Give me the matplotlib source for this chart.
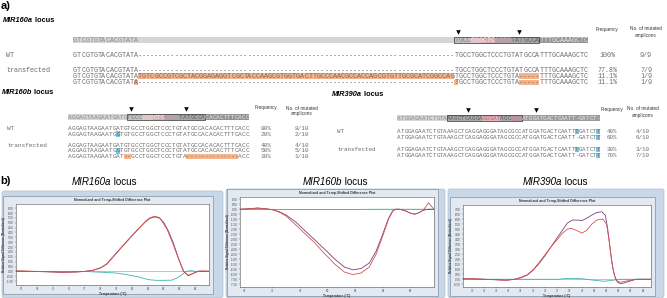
import matplotlib.pyplot as plt
from matplotlib.patches import Rectangle, FancyBboxPatch

plt.rcParams['font.family'] = ['Liberation Sans', 'DejaVu Sans']

W, H = 667, 298
MONO = 'Liberation Mono'
GREY = '#6e6e6e'
ORANGE = '#f6b38a'
CYAN = '#72c7e0'

# ---------------- a) sequence data ----------------
mir160a_left = "GTCGTGTACACGTATA"
mir160a_ins = "TGTCGCCGTCGCTACGGAGAGGTCGCTACCAAGCGTGGTGACTTGCCCAACGCCACCAGCGTGTTGCGCATCGGCCAG"
mir160a_right = "TGCCTGGCTCCCTGTATGCCATTTGCAAAGCTC"
mir160a_right_del = "TGCCTGGCTCCCTGTA-----TTTGCAAAGCTC"
mir160a_gap = "-" * len(mir160a_ins)
n_ins = len(mir160a_ins)
mir160a_ref = mir160a_left + " " * n_ins + mir160a_right
mir160a_seqs = [
    mir160a_left + mir160a_gap + mir160a_right,
    mir160a_left + mir160a_gap + mir160a_right,
    mir160a_left + mir160a_ins + mir160a_right_del,
    mir160a_left + mir160a_gap + mir160a_right_del,
]
mir160a_groups = ["WT", "transfected", "", ""]
mir160a_freq = ["100%", "77.8%", "11.1%", "11.1%"]
mir160a_count = ["9/9", "7/9", "1/9", "1/9"]
k = 16 + n_ins  # start of target region
mir160a_orange = [[], [], [(16, k), (k + 16, k + 21)], [(15, 16), (k, k + 1), (k + 16, k + 21)]]
mir160a_cyan = [[], [], [], []]
mir160a_segs = [(0, k, '#d5d5d5', '#8a8a8a'), (k, k + 4, '#c4c4c4', '#7c7c7c'),
                (k + 4, k + 7, '#e4c6ca', '#e4c6ca'), (k + 7, k + 10, '#d8a9b1', 'white'),
                (k + 10, k + 14, '#b5a3a7', '#b5a3a7'), (k + 14, k + 21, '#a8a8a8', '#606060'),
                (k + 21, k + 33, '#939393', '#e8e8e8')]
mir160a_box = (k, k + 21)
mir160a_cuts = [k + 1, k + 16]

mir160b_ref = "AGGAGTAAGAATGATGTGCCTGGCTCCCTGTATGCCACACACTTTCACC"
mir160b_snp = "AGGAGTAAGAATGGTGTGCCTGGCTCCCTGTATGCCACACACTTTCACC"
mir160b_del = "AGGAGTAAGAATGAT--GCCTGGCTCCCTGTA--------------ACC"
mir160b_seqs = [mir160b_ref, mir160b_snp, mir160b_ref, mir160b_snp, mir160b_del]
mir160b_groups = ["WT", "", "transfected", "", ""]
mir160b_freq = ["80%", "20%", "40%", "50%", "10%"]
mir160b_count = ["8/10", "2/10", "4/10", "5/10", "1/10"]
mir160b_orange = [[], [], [], [], [(15, 17), (32, 46)]]
mir160b_cyan = [[], [(13, 14)], [], [(13, 14)], []]
mir160b_segs = [(0, 16, '#d5d5d5', '#8a8a8a'), (16, 20, '#c4c4c4', '#7c7c7c'),
                (20, 23, '#e4c6ca', '#e4c6ca'), (23, 26, '#d8a9b1', 'white'),
                (26, 30, '#b5a3a7', '#b5a3a7'), (30, 37, '#a8a8a8', '#606060'),
                (37, 49, '#939393', '#e8e8e8')]
mir160b_box = (16, 37)
mir160b_cuts = [17, 32]

mir390a_ref = "ATGGAGAATCTGTAAAGCTCAGGAGGGATAGCGCCATGGATGACTCAATT-GATCT-"
mir390a_ins = "ATGGAGAATCTGTAAAGCTCAGGAGGGATAGCGCCATGGATGACTCAATTTGATCTT"
mir390a_del = "ATGGAGAATCTGTAAAGCTCAGGAGGGATAGCGCCATGGATGACTCAATT-GATCTT"
mir390a_seqs = [mir390a_ins, mir390a_del, mir390a_ins, mir390a_del]
mir390a_groups = ["WT", "", "transfected", ""]
mir390a_freq = ["40%", "60%", "30%", "70%"]
mir390a_count = ["4/10", "6/10", "3/10", "7/10"]
mir390a_orange = [[], [], [], []]
mir390a_cyan = [[(50, 51), (56, 57)], [(56, 57)], [(50, 51), (56, 57)], [(56, 57)]]
mir390a_segs = [(0, 14, '#d5d5d5', '#8a8a8a'), (14, 24, '#ababab', '#5c5c5c'),
                (24, 29, '#ddb5bc', '#c0606a'), (29, 32, '#ababab', '#5c5c5c'),
                (32, 35, '#b9949c', '#b9949c'), (35, 57, '#9d9d9d', '#e8e8e8')]
mir390a_box = (14, 35)
mir390a_cuts = [20, 39]

# ---------------- b) difference plot data ----------------
t160a_red = [72.6, 73.0, 73.5, 74.0, 74.5, 75.0, 75.5, 76.0, 76.5, 77.0, 77.5, 78.0, 78.4, 78.8, 79.4,
             79.9, 80.4, 80.8, 81.1, 81.4, 81.7, 81.9, 82.2, 82.5, 82.9, 83.2, 83.5, 83.8, 84.1, 84.4, 84.85]
y160a_red = [0.05, 0.05, 0.02, 0.0, -0.02, -0.05, -0.08, -0.08, -0.05, 0.0, 0.1, 0.35, 0.75, 1.5, 2.6,
             3.5, 4.4, 5.1, 5.5, 5.67, 5.55, 5.1, 4.3, 3.1, 1.4, 0.1, -0.4, -0.25, 0.0, 0.05, 0.03]
t160a_pur = [72.6, 73.5, 74.5, 75.5, 76.5, 77.0, 77.5, 78.0, 78.4, 78.8, 79.4, 79.9, 80.4, 80.8, 81.1,
             81.45, 81.75, 82.0, 82.3, 82.6, 82.95, 83.25, 83.55, 83.85, 84.2, 84.85]
y160a_pur = [0.03, 0.0, -0.04, -0.1, -0.06, 0.0, 0.12, 0.38, 0.8, 1.55, 2.65, 3.55, 4.4, 5.05, 5.45,
             5.6, 5.45, 5.0, 4.1, 2.9, 1.2, 0.0, -0.45, -0.2, 0.02, 0.0]
t160a_cyan = [72.6, 77.0, 77.5, 78.0, 79.0, 79.7, 80.4, 81.0, 81.5, 82.0, 82.5, 82.8, 83.1, 83.4, 83.7, 84.0, 84.85]
y160a_cyan = [0.0, 0.0, -0.05, -0.08, -0.17, -0.35, -0.57, -0.85, -0.92, -0.92, -0.9, -0.7, -0.4, 0.0, 0.08, 0.0, 0.0]

t160b_red = [73.64, 74.3, 74.9, 75.5, 76.0, 76.5, 77.0, 77.7, 78.3, 79.0, 79.8, 80.5, 81.2, 81.8, 82.4,
             83.0, 83.5, 84.0, 84.4, 84.7, 84.9, 85.2, 85.6, 86.0, 86.3, 86.6, 86.9, 87.1, 87.3, 87.5, 87.69]
y160b_red = [0.0, 0.05, 0.12, 0.05, -0.05, -0.3, -0.7, -1.6, -2.4, -3.3, -4.5, -5.5, -6.3, -6.55, -6.4,
             -5.8, -4.5, -2.6, -1.0, -0.2, 0.0, 0.0, -0.15, -0.4, -0.49, -0.35, -0.1, 0.25, 0.65, 0.3, 0.0]
t160b_pur = [73.64, 74.3, 74.9, 75.5, 76.0, 76.5, 77.0, 77.7, 78.3, 79.0, 79.8, 80.5, 81.2, 81.8, 82.4,
             83.0, 83.5, 84.0, 84.4, 84.7, 84.9, 85.2, 85.6, 86.0, 86.3, 86.6, 86.9, 87.3, 87.69]
y160b_pur = [0.0, 0.05, 0.12, 0.05, -0.05, -0.25, -0.6, -1.3, -2.1, -3.0, -4.05, -5.0, -5.8, -6.07, -5.95,
             -5.4, -4.2, -2.4, -0.9, -0.15, 0.0, 0.0, -0.15, -0.4, -0.49, -0.35, -0.1, 0.0, 0.0]
t160b_cyan = [73.64, 80.0, 84.0, 87.69]
y160b_cyan = [0.0, -0.03, 0.0, 0.0]

t390a_pur = [69.26, 70.0, 71.0, 72.0, 72.8, 73.5, 74.0, 74.5, 75.0, 75.5, 76.0, 76.5, 77.0, 77.4, 77.8,
             78.2, 78.6, 79.0, 79.4, 79.8, 80.2, 80.6, 80.9, 81.1, 81.3, 81.5, 81.7, 81.9, 82.2, 82.6,
             83.0, 83.4, 84.0, 84.64]
y390a_pur = [0.05, 0.05, 0.0, -0.05, -0.1, 0.0, 0.15, 0.4, 0.9, 1.6, 2.4, 3.3, 4.2, 4.9, 5.6,
             5.9, 5.9, 5.85, 6.1, 6.4, 6.65, 6.73, 6.4, 5.0, 3.0, 1.2, 0.2, -0.3, -0.45, -0.3,
             -0.15, 0.0, 0.0, 0.0]
t390a_red = [69.26, 70.0, 71.0, 72.0, 72.8, 73.5, 74.0, 74.5, 75.0, 75.5, 76.0, 76.5, 77.0, 77.4, 77.8,
             78.1, 78.5, 79.0, 79.4, 79.8, 80.2, 80.7, 81.0, 81.2, 81.4, 81.6, 81.8, 82.1, 82.5, 83.0,
             83.5, 84.64]
y390a_red = [0.05, 0.05, 0.0, -0.05, -0.1, 0.0, 0.2, 0.45, 0.95, 1.7, 2.5, 3.3, 4.0, 4.6, 5.0,
             5.07, 4.9, 4.6, 4.9, 5.5, 5.9, 6.0, 5.5, 4.0, 2.0, 0.6, -0.1, -0.3, -0.2, -0.1,
             0.0, 0.0]
t390a_cyan = [69.26, 77.0, 78.0, 79.0, 80.0, 80.8, 81.5, 82.0, 84.64]
y390a_cyan = [0.0, 0.0, 0.1, 0.05, -0.1, -0.2, -0.1, 0.0, 0.0]

fig = plt.figure(figsize=(W / 100, H / 100), dpi=100)
ax = fig.add_axes([0, 0, 1, 1])
ax.set_xlim(0, W)
ax.set_ylim(H, 0)
ax.axis('off')


def locus_title(x, y, name, size, bold, ha='left'):
    w = 'bold' if bold else 'normal'
    t = ax.text(x, y, name, fontsize=size, fontstyle='italic', fontweight=w, ha=ha, va='center')
    ax.annotate(' locus', xy=(1, 0.5), xycoords=t, fontsize=size, fontweight=w, ha='left', va='center')


def seq_row(s, x0, y, cw, fs, orange=(), cyan=(), colors=None):
    for a, b in orange:
        ax.add_patch(Rectangle((x0 + a * cw, y - 2.9), (b - a) * cw, 5.8, color=ORANGE, lw=0))
    for a, b in cyan:
        ax.add_patch(Rectangle((x0 + a * cw, y - 2.9), (b - a) * cw, 5.8, color=CYAN, lw=0))
    for i, ch in enumerate(s):
        if ch == ' ':
            continue
        c = colors[i] if colors else GREY
        ax.text(x0 + (i + 0.5) * cw, y + 0.3, ch, fontsize=fs, family=MONO, color=c,
                ha='center', va='center')


def seq_block(ref, segs, box, cuts, seqs, groups, freq, count, orange, cyan,
              x0, cw, ref_y, rows_y, label_x, freq_x, count_x, head_y):
    fs = cw / 0.6 * 0.72
    colors = [GREY] * len(ref)
    for a, b, fc, tc in segs:
        ax.add_patch(Rectangle((x0 + a * cw, ref_y - 3), (b - a) * cw, 6, color=fc, lw=0))
        for i in range(a, b):
            colors[i] = tc
    ax.add_patch(Rectangle((x0 + box[0] * cw, ref_y - 3), (box[1] - box[0]) * cw, 6,
                           fill=False, ec='#4a4a4a', lw=0.6))
    seq_row(ref, x0, ref_y, cw, fs, colors=colors)
    for c in cuts:
        ax.plot(x0 + c * cw, ref_y - 8.5, marker='v', color='black', ms=3.3, mew=0)
    for s, g, f, n, o, cy, y in zip(seqs, groups, freq, count, orange, cyan, rows_y):
        seq_row(s, x0, y, cw, fs, orange=o, cyan=cy)
        if g:
            ax.text(label_x, y + 0.3, g, fontsize=fs, family=MONO, color=GREY, ha='left', va='center')
        ax.text(freq_x, y + 0.3, f, fontsize=fs, family=MONO, color=GREY, ha='center', va='center')
        ax.text(count_x, y + 0.3, n, fontsize=fs, family=MONO, color=GREY, ha='center', va='center')
    ax.text(freq_x, head_y, 'Frequency', fontsize=3.4, ha='center', va='center', color='#333333')
    ax.text(count_x, head_y, 'No. of mutated', fontsize=3.4, ha='center', va='center', color='#333333')
    ax.text(count_x, head_y + 6, 'amplicons', fontsize=3.4, ha='center', va='center', color='#333333')


# ---------------- panel a ----------------
ax.text(1, 6, 'a)', fontsize=8, fontweight='bold', ha='left', va='center')
locus_title(3, 20, 'MIR160a', 5.3, True)
seq_block(mir160a_ref, mir160a_segs, mir160a_box, mir160a_cuts, mir160a_seqs, mir160a_groups,
          mir160a_freq, mir160a_count, mir160a_orange, mir160a_cyan,
          73, 515 / len(mir160a_ref), 40, [55, 70, 76.3, 82.5], 6, 607, 646, 29)

locus_title(2, 93, 'MIR160b', 5.3, True)
seq_block(mir160b_ref, mir160b_segs, mir160b_box, mir160b_cuts, mir160b_seqs, mir160b_groups,
          mir160b_freq, mir160b_count, mir160b_orange, mir160b_cyan,
          68, 3.7, 117, [128.3, 134, 145, 150.7, 156.4], 7, 266, 302, 108)

locus_title(332, 95, 'MIR390a', 5.3, True)
seq_block(mir390a_ref, mir390a_segs, mir390a_box, mir390a_cuts, mir390a_seqs, mir390a_groups,
          mir390a_freq, mir390a_count, mir390a_orange, mir390a_cyan,
          397, 3.56, 118, [131.5, 137.5, 149.5, 155.5], 337, 612, 643, 109)


# ---------------- panel b ----------------
def melt_plot(bg, area, curves, xlim, ylim, xticks, yticks):
    x0, y0, x1, y1 = bg
    ax.add_patch(FancyBboxPatch((x0, y0), x1 - x0, y1 - y0, boxstyle='round,pad=0,rounding_size=2',
                                fc='#c8d8e8', ec='#aebfd1', lw=0.5))
    px0, py0, px1, py1 = area
    ax.add_patch(Rectangle((px0 - 13, py0 - 8), px1 - px0 + 17, py1 - py0 + 17,
                           fc='#e2e9f1', ec='#8190a2', lw=0.5))
    ax.text((px0 + px1) / 2, py0 - 4, 'Normalized and Temp-Shifted Difference Plot', fontsize=2.5,
            fontweight='bold', ha='center', va='center', color='#333333')
    m = fig.add_axes([px0 / W, 1 - py1 / H, (px1 - px0) / W, (py1 - py0) / H])
    m.axhline(0, color='#86d0c4', lw=0.6)
    for xs, ys, c in curves:
        m.plot(xs, ys, color=c, lw=0.6)
    m.set_xlim(xlim)
    m.set_ylim(ylim)
    m.set_xticks(xticks)
    m.set_yticks(yticks)
    m.set_yticklabels(['%.2f' % v for v in yticks])
    m.tick_params(labelsize=2.1, length=1, width=0.3, pad=0.8, colors='#444444')
    m.set_xlabel('Temperature (°C)', fontsize=2.4, labelpad=0.4, fontweight='bold', color='#333333')
    m.set_ylabel('Relative Signal Difference (Normalized)', fontsize=2.1, labelpad=0.8,
                 fontweight='bold', color='#333333')
    for s in m.spines.values():
        s.set_linewidth(0.4)
        s.set_color('#555555')


ax.text(0, 181, 'b)', fontsize=8, fontweight='bold', ha='left', va='center')
locus_title(72, 182, 'MIR160a', 7, False)
locus_title(303, 182, 'MIR160b', 7, False)
locus_title(523, 182, 'MIR390a', 7, False)

RED, PUR, TEAL = '#d9534f', '#7b3f7a', '#3cb3b0'
melt_plot((2, 191, 223, 297.5), (16, 204, 209, 285),
          [(t160a_cyan, y160a_cyan, TEAL), (t160a_pur, y160a_pur, PUR), (t160a_red, y160a_red, RED)],
          (72.64, 84.85), (-1.4, 6.93), list(range(73, 85)), [v / 2 for v in range(-2, 14)])
melt_plot((226, 189, 445, 297.5), (240, 197, 434, 287),
          [(t160b_cyan, y160b_cyan, TEAL), (t160b_pur, y160b_pur, PUR), (t160b_red, y160b_red, RED)],
          (73.64, 87.69), (-7.8, 1.23), list(range(74, 88, 2)), [v / 2 for v in range(-15, 3)])
melt_plot((448, 189, 664, 297.5), (463, 205, 651, 287),
          [(t390a_cyan, y390a_cyan, TEAL), (t390a_pur, y390a_pur, PUR), (t390a_red, y390a_red, RED)],
          (69.26, 84.64), (-0.77, 7.4), list(range(70, 85)), [v / 2 for v in range(-1, 15)])

fig.savefig('out.png', dpi=100)
